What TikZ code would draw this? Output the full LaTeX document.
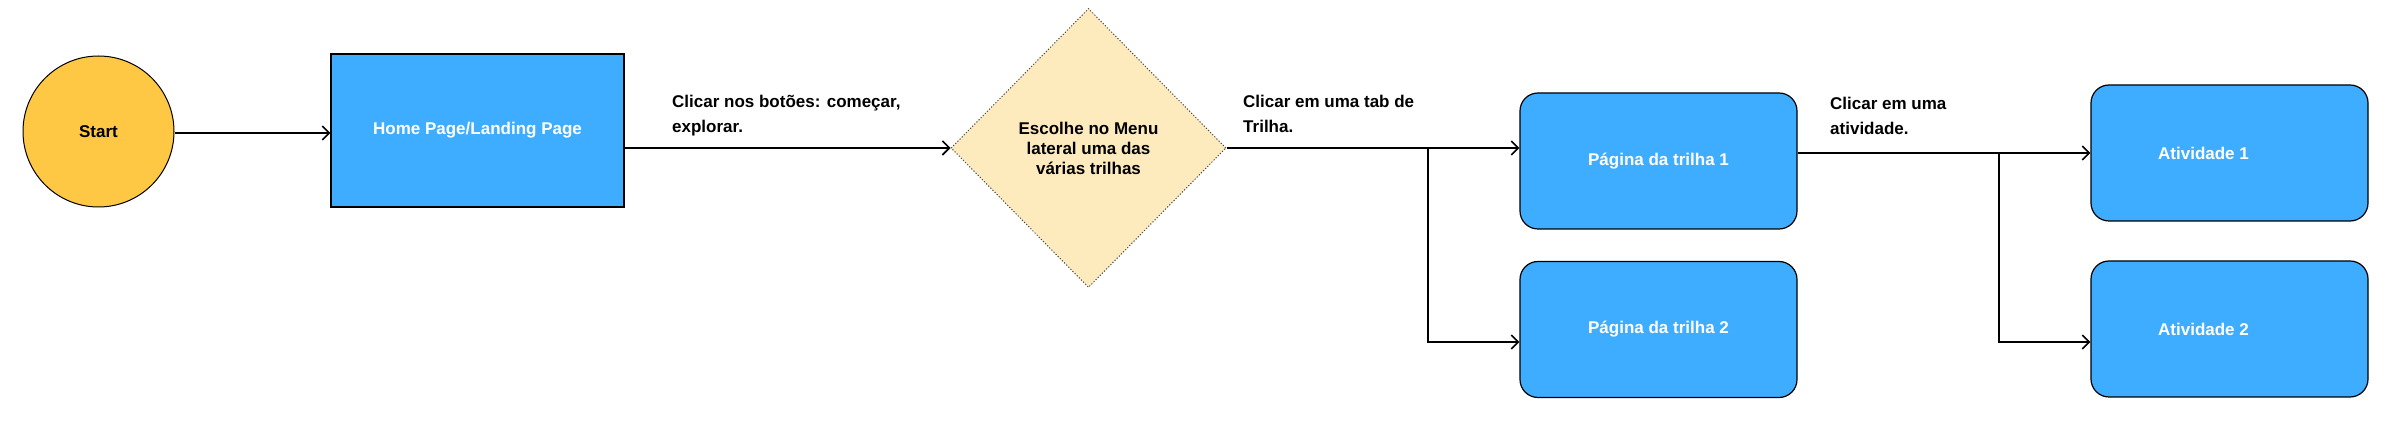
\documentclass[tikz,border=0pt]{standalone}
\usepackage{fontspec}
\setmainfont{Liberation Sans}
\usetikzlibrary{shapes.geometric,arrows.meta}
\definecolor{startyel}{HTML}{FFC844}
\definecolor{boxblue}{HTML}{3FADFF}
\definecolor{diafill}{HTML}{FDEBBD}
\begin{document}
\begin{tikzpicture}[x=1pt,y=-1pt,
  every node/.style={font=\bfseries\fontsize{17}{25}\selectfont},
  startnode/.style={circle,draw=black,line width=1pt,fill=startyel,minimum size=151pt,inner sep=0pt},
  homebox/.style={rectangle,draw=black,line width=1.2pt,fill=boxblue,text=white,minimum width=293pt,minimum height=153pt,inner sep=0pt},
  pagebox/.style={rectangle,rounded corners=18pt,draw=black,line width=1.2pt,fill=boxblue,text=white,minimum width=277pt,minimum height=136pt,inner sep=0pt},
  choice/.style={diamond,draw=black!70,dash pattern=on 1.2pt off 1.8pt,line width=1pt,fill=diafill,minimum width=275pt,minimum height=279pt,inner sep=0pt,align=center,font=\bfseries\fontsize{17}{20}\selectfont},
  lbl/.style={anchor=west,align=left,inner sep=0pt},
  conn/.style={line width=1.6pt,-{Straight Barb[length=7pt,width=14pt,line width=1.6pt]}},
  seg/.style={line width=1.6pt}]
\useasboundingbox (0,0) rectangle (2402,443);
\node[startnode] (start) at (98.5,131.5) {Start};
\node[homebox] (home) at (477.5,130.5) {Home Page/Landing Page};
\node[choice] (dia) at (1088.5,148) {Escolhe no Menu\\lateral uma das\\várias trilhas};
\node[pagebox] (p1) at (1658.5,161) {Página da trilha 1};
\node[pagebox] (p2) at (1658.5,329.5) {Página da trilha 2};
\node[pagebox] (a1) at (2229.5,153) {Atividade 1\hspace*{52pt}};
\node[pagebox] (a2) at (2229.5,329) {Atividade 2\hspace*{52pt}};
\node[lbl] (l1) at (672,115.5) {Clicar nos botões: começar,\\explorar.};
\node[lbl] (l2) at (1243,114) {Clicar em uma tab de\\Trilha.};
\node[lbl] (l3) at (1830,115.5) {Clicar em uma\\atividade.};
\coordinate (j1) at (1428,148);
\coordinate (b1) at (1428,342);
\coordinate (j2) at (1999,153);
\coordinate (b2) at (1999,342);
\draw[conn] (start.east |- 0,133) -- (home.west |- 0,133);
\draw[conn] (home.east |- dia.west) -- (dia.west);
\draw[conn] (dia.east) -- (p1.west |- dia.east);
\draw[conn] (j1) -- (b1) -- (p2.west |- b1);
\draw[conn] (p1.east |- j2) -- (a1.west |- j2);
\draw[conn] (j2) -- (b2) -- (a2.west |- b2);
\end{tikzpicture}
\end{document}
